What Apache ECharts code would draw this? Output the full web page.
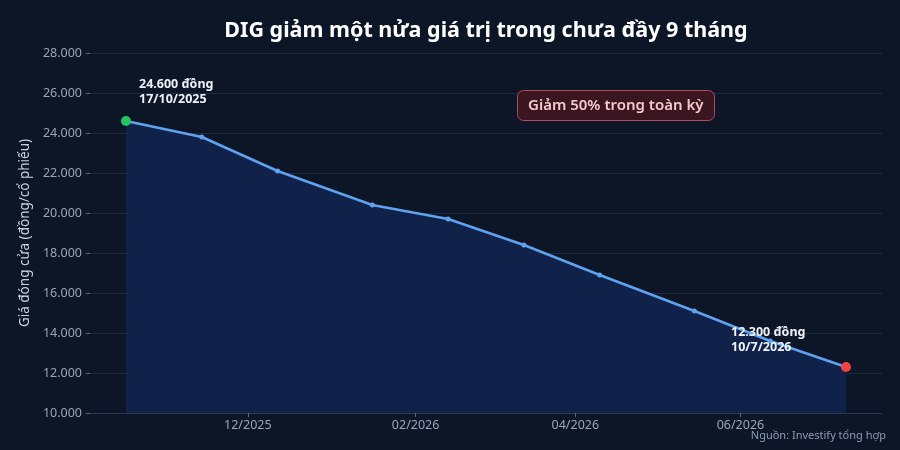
<!DOCTYPE html>
<html>
<head>
<meta charset="utf-8">
<script src="https://cdn.jsdelivr.net/npm/echarts@6/dist/echarts.min.js"></script>
<style>
html,body{margin:0;padding:0;background:#0c1626;}
#chart{width:900px;height:450px;}
</style>
</head>
<body>
<div id="chart"></div>
<script>
// Data
const dates = ["2025-10-17","2025-11-14","2025-12-12","2026-01-16","2026-02-13","2026-03-13","2026-04-10","2026-05-15","2026-06-12","2026-07-10"];
const prices = [24600, 23800, 22100, 20400, 19700, 18400, 16900, 15100, 13600, 12300];
const xTickDates = ["2025-12-01","2026-02-01","2026-04-01","2026-06-01"];
const xTickLabels = ["12/2025","02/2026","04/2026","06/2026"];
const startLabel = ["24.600 đồng", "17/10/2025"];
const endLabel = ["12.300 đồng", "10/7/2026"];
const titleText = "DIG giảm một nửa giá trị trong chưa đầy 9 tháng";
const boxText = "Giảm 50% trong toàn kỳ";
const sourceText = "Nguồn: Investify tổng hợp";
const yName = "Giá đóng cửa (đồng/cổ phiếu)";

const ts = d => new Date(d + "T00:00:00Z").getTime();
const xTickTs = xTickDates.map(ts);
const tickMap = {};
xTickTs.forEach((t, i) => tickMap[t] = xTickLabels[i]);

const last = prices.length - 1;
const seriesData = dates.map((d, i) => {
  const item = { value: [ts(d), prices[i]] };
  if (i === 0 || i === last) {
    item.symbolSize = 10;
    item.itemStyle = { color: i === 0 ? "#22c55e" : "#ef4444" };
    item.label = {
      show: true,
      formatter: (i === 0 ? startLabel : endLabel).join("\n"),
      position: i === 0 ? [18, -39] : [-110, -37],
      align: "left",
      verticalAlign: "top",
      color: "#eef2f8",
      fontWeight: "bold",
      fontSize: 12.5,
      lineHeight: 15,
      fontFamily: "Noto Sans"
    };
  }
  return item;
});

const chart = echarts.init(document.getElementById("chart"), null, { renderer: "canvas" });
const fmtThousands = v => String(v).replace(/\B(?=(\d{3})+(?!\d))/g, ".");

chart.setOption({
  backgroundColor: "#0c1626",
  animation: false,
  textStyle: { fontFamily: "Noto Sans" },
  title: [
    {
      text: titleText,
      left: 481, top: 15, textAlign: "center",
      textStyle: { color: "#ffffff", fontSize: 21.5, fontWeight: "bold", fontFamily: "Noto Sans" }
    },
    {
      text: boxText,
      left: 517, top: 90,
      padding: [8, 11, 8, 11],
      backgroundColor: "#3b1520",
      borderColor: "#b34a5c",
      borderWidth: 1,
      borderRadius: 6,
      textStyle: { color: "#f7c9cf", fontSize: 15, fontWeight: 600, fontFamily: "Noto Sans" }
    },
    {
      text: sourceText,
      right: 14, top: 430,
      padding: 0,
      textStyle: { color: "#8f9bb0", fontSize: 11, fontWeight: "normal", fontFamily: "Noto Sans" }
    }
  ],
  grid: { left: 90, right: 18, top: 53, bottom: 37, containLabel: false },
  xAxis: {
    type: "value",
    scale: true,
    min: v => v.min - (v.max - v.min) * 0.05,
    max: v => v.max + (v.max - v.min) * 0.05,
    axisLine: { show: true, lineStyle: { color: "#2a3850" } },
    axisTick: { show: true, customValues: xTickTs, length: 4, lineStyle: { color: "#5a6880" } },
    axisLabel: {
      customValues: xTickTs,
      formatter: v => tickMap[v] || "",
      color: "#9aa5b8", fontSize: 12.5, margin: 6, fontFamily: "Noto Sans"
    },
    splitLine: { show: false }
  },
  yAxis: {
    type: "value",
    min: 10000, max: 28000, interval: 2000,
    name: yName,
    nameLocation: "middle",
    nameGap: 57,
    nameTextStyle: { color: "#c9d1dc", fontSize: 13.5, fontFamily: "Noto Sans" },
    axisLine: { show: false },
    axisTick: { show: true, length: 4, lineStyle: { color: "#5a6880" } },
    axisLabel: { formatter: v => fmtThousands(v), color: "#9aa5b8", fontSize: 12.5, margin: 8, fontFamily: "Noto Sans" },
    splitLine: { show: true, lineStyle: { color: "#1e2b3f", width: 1 } }
  },
  series: [{
    type: "line",
    data: seriesData,
    symbol: "circle",
    symbolSize: 5,
    showAllSymbol: true,
    lineStyle: { color: "#5fa3f0", width: 2.5 },
    itemStyle: { color: "#5fa3f0" },
    areaStyle: { color: "#10214a", opacity: 1 },
    z: 3
  }]
});
</script>
</body>
</html>
